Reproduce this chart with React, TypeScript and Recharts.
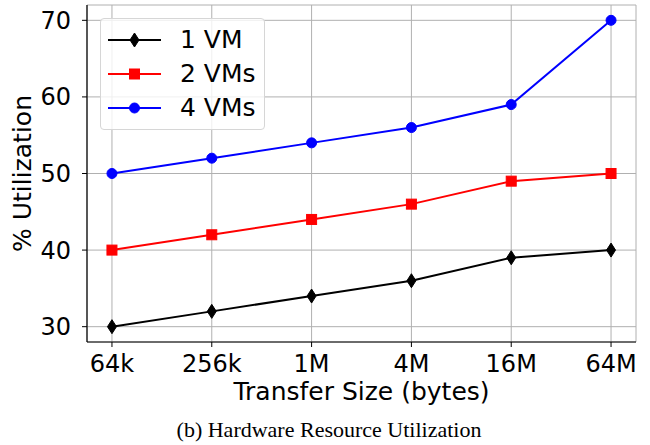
import React from 'react';
import { LineChart, Line, XAxis, YAxis, CartesianGrid, Legend } from 'recharts';

const categories = ['64k', '256k', '1M', '4M', '16M', '64M'];
const vm1 = [30, 32, 34, 36, 39, 40];
const vm2 = [40, 42, 44, 46, 49, 50];
const vm4 = [50, 52, 54, 56, 59, 70];
const yTicks = [30, 40, 50, 60, 70];
const seriesNames = ['1 VM', '2 VMs', '4 VMs'];

const data = categories.map((c, i) => ({ idx: i, label: c, vm1: vm1[i], vm2: vm2[i], vm4: vm4[i] }));
const xTicks = categories.map((_, i) => i);

const FONT = '"DejaVu Sans", sans-serif';

const DiamondShape = ({ cx, cy, color }: any) => (
  <path d={`M${cx},${cy - 7} L${cx + 4.5},${cy} L${cx},${cy + 7} L${cx - 4.5},${cy} Z`} fill={color} stroke={color} strokeWidth={1} />
);
const SquareShape = ({ cx, cy, color }: any) => (
  <rect x={cx - 5} y={cy - 5} width={10} height={10} fill={color} stroke={color} strokeWidth={1} />
);
const CircleShape = ({ cx, cy, color }: any) => <circle cx={cx} cy={cy} r={5} fill={color} stroke={color} strokeWidth={1} />;

const series = [
  { key: 'vm1', name: seriesNames[0], color: '#000000', Shape: DiamondShape },
  { key: 'vm2', name: seriesNames[1], color: '#ff0000', Shape: SquareShape },
  { key: 'vm4', name: seriesNames[2], color: '#0000ff', Shape: CircleShape },
];

const LegendBox = () => (
  <div
    style={{
      width: 163,
      height: 106,
      border: '1px solid #d6d6d6',
      borderRadius: 4,
      background: 'rgba(255,255,255,0.8)',
      paddingTop: 4,
      boxSizing: 'content-box',
      fontFamily: FONT,
      fontSize: 25,
      color: '#000',
    }}
  >
    {series.map((s) => (
      <div key={s.key} style={{ height: 34, position: 'relative' }}>
        <svg width={70} height={34} style={{ position: 'absolute', left: 0, top: 0 }}>
          <line x1={7} y1={17} x2={60} y2={17} stroke={s.color} strokeWidth={2} />
          <s.Shape cx={33.5} cy={17} color={s.color} />
        </svg>
        <span style={{ position: 'absolute', left: 79, top: 0, lineHeight: '34px', whiteSpace: 'nowrap' }}>{s.name}</span>
      </div>
    ))}
  </div>
);

const YLabel = (props: any) => {
  const vb = props.viewBox;
  const x = vb.x + 31;
  const y = vb.y + vb.height / 2;
  return (
    <text x={x} y={y} transform={`rotate(-90, ${x}, ${y})`} textAnchor="middle" fontFamily={FONT} fontSize={25} fill="#000">
      % Utilization
    </text>
  );
};

export default function App() {
  return (
    <div style={{ position: 'absolute', left: 0, top: 0, width: 650, height: 445, background: '#fff' }}>
      <LineChart width={650} height={445} data={data} margin={{ top: 5, right: 14, bottom: 33, left: 0 }}>
        <CartesianGrid stroke="#b0b0b0" strokeWidth={1} />
        <XAxis
          dataKey="idx"
          type="number"
          domain={[-0.25, 5.25]}
          ticks={xTicks}
          tickFormatter={(v: number) => categories[v]}
          height={70}
          tickSize={5}
          tickMargin={8}
          stroke="#000"
          axisLine={{ stroke: '#000', strokeWidth: 1.2 }}
          tickLine={{ stroke: '#000', strokeWidth: 1 }}
          tick={{ fontFamily: FONT, fontSize: 24, fill: '#000' }}
          label={{ value: 'Transfer Size (bytes)', position: 'insideBottom', offset: 12, fontFamily: FONT, fontSize: 25, fill: '#000' }}
        />
        <XAxis xAxisId="top" orientation="top" dataKey="idx" type="number" domain={[-0.25, 5.25]} height={0} tick={false} tickLine={false} axisLine={{ stroke: '#000', strokeWidth: 1.2 }} />
        <YAxis
          type="number"
          domain={[28, 72]}
          ticks={yTicks}
          width={87}
          tickSize={5}
          tickMargin={11}
          axisLine={{ stroke: '#000', strokeWidth: 1.2 }}
          tickLine={{ stroke: '#000', strokeWidth: 1 }}
          tick={{ fontFamily: FONT, fontSize: 24, fill: '#000' }}
          label={{ content: YLabel }}
        />
        <YAxis yAxisId="right" orientation="right" type="number" domain={[28, 72]} width={0} tick={false} tickLine={false} axisLine={{ stroke: '#000', strokeWidth: 1.2 }} />
        <Legend content={<LegendBox />} layout="vertical" verticalAlign="middle" align="center" wrapperStyle={{ left: 100, top: 18, width: 'auto', height: 'auto' }} />
        {series.map((s) => (
          <Line
            key={s.key}
            dataKey={s.key}
            name={s.name}
            stroke={s.color}
            strokeWidth={2}
            isAnimationActive={false}
            dot={(p: any) => <s.Shape key={`${s.key}-${p.index}`} cx={p.cx} cy={p.cy} color={s.color} />}
            activeDot={false}
          />
        ))}
      </LineChart>
      <div
        style={{
          position: 'absolute',
          left: 0,
          width: 658,
          top: 418,
          textAlign: 'center',
          fontFamily: '"Liberation Serif", "Times New Roman", serif',
          fontSize: 22,
          lineHeight: '24px',
          color: '#000',
          whiteSpace: 'nowrap',
        }}
      >
        (b) Hardware Resource Utilization
      </div>
    </div>
  );
}
